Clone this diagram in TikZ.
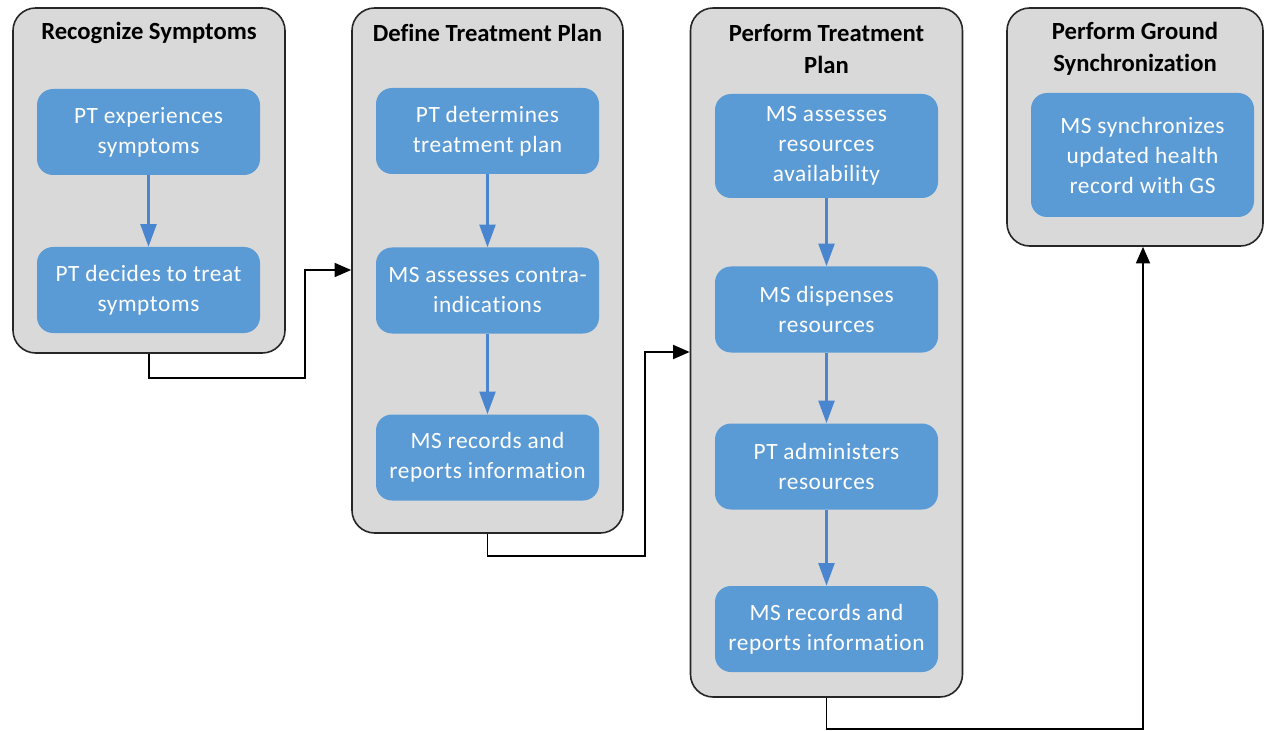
\documentclass[tikz,border=0pt]{standalone}
\usepackage{fontspec}
\setmainfont{Carlito}[Ligatures=CommonOff]
\newfontfamily\stepfont{Carlito}[Ligatures=CommonOff,LetterSpace=2.5]
\usetikzlibrary{arrows.meta,positioning}
\definecolor{stepblue}{HTML}{5B9BD5}
\definecolor{lanegray}{HTML}{D9D9D9}
\definecolor{flowblue}{HTML}{4A86D0}

\begin{document}
\begin{tikzpicture}[x=0.75pt,y=-0.75pt,
	lane/.style={draw=black!85, line width=1.2pt, fill=lanegray, rounded corners=17pt, inner sep=0pt},
	lanetitle/.style={align=center, font=\fontsize{18.5}{24}\selectfont\bfseries, text=black},
	stepbox/.style={fill=stepblue, rounded corners=12pt, minimum width=167.25pt, align=center,
		text=white, font=\stepfont\fontsize{17.5}{22.5}\selectfont, inner sep=0pt},
	stepflow/.style={draw=flowblue, line width=1.8pt, -{Triangle[length=17pt,width=12pt]}},
	flow/.style={draw=black, line width=1.4pt, -{Triangle[length=12.5pt,width=10.5pt]}}
	]
	\useasboundingbox (0,0) rectangle (1265,731);

	% swim lanes
	\node[lane, minimum width=204pt, minimum height=258.75pt] (lane1) at (149,180.5) {};
	\node[lane, minimum width=203.25pt, minimum height=393.75pt] (lane2) at (487.5,270.5) {};
	\node[lane, minimum width=204pt, minimum height=516.75pt] (lane3) at (826.5,352.5) {};
	\node[lane, minimum width=192pt, minimum height=178.5pt] (lane4) at (1135,127) {};

	\node[lanetitle] (title1) at (149,33) {Recognize Symptoms};
	\node[lanetitle] (title2) at (487.5,33) {Define Treatment Plan};
	\node[lanetitle] (title3) at (826.5,49) {Perform Treatment\\Plan};
	\node[lanetitle] (title4) at (1135,49) {Perform Ground\\Synchronization};

	% steps
	\node[stepbox, minimum height=64.5pt] (b11) at (148.5,132) {PT experiences\\symptoms};
	\node[stepbox, minimum height=64.5pt] (b12) at (148.5,290) {PT decides to treat\\symptoms};

	\node[stepbox, minimum height=64.5pt] (b21) at (487.5,131) {PT determines\\treatment plan};
	\node[stepbox, minimum height=64.5pt] (b22) at (487.5,290.5) {MS assesses contra-\\indications};
	\node[stepbox, minimum height=64.5pt] (b23) at (487.5,457.5) {MS records and\\reports information};

	\node[stepbox, minimum height=78pt] (b31) at (826.5,146) {MS assesses\\resources\\availability};
	\node[stepbox, minimum height=64.5pt] (b32) at (826.5,309.5) {MS dispenses\\resources};
	\node[stepbox, minimum height=64.5pt] (b33) at (826.5,466.5) {PT administers\\resources};
	\node[stepbox, minimum height=64.5pt] (b34) at (826.5,629) {MS records and\\reports information};

	\node[stepbox, minimum height=93pt] (b41) at (1142.5,155) {MS synchronizes\\updated health\\record with GS};

	\draw[stepflow] (b11) -- (b12);
	\draw[stepflow] (b21) -- (b22);
	\draw[stepflow] (b22) -- (b23);
	\draw[stepflow] (b31) -- (b32);
	\draw[stepflow] (b32) -- (b33);
	\draw[stepflow] (b33) -- (b34);

	% hand-offs between lanes
	\coordinate (bend1) at (305,270);
	\coordinate (bend2) at (645,352);
	\coordinate (bend3) at (1143,729);
	\draw[flow] (lane1.south) -- ++(0,24) -| (bend1) -- (bend1 -| lane2.west);
	\draw[flow] (lane2.south) -- ++(0,22) -| (bend2) -- (bend2 -| lane3.west);
	\draw[flow] (lane3.south) |- (bend3) -- (bend3 |- lane4.south);
\end{tikzpicture}
\end{document}
